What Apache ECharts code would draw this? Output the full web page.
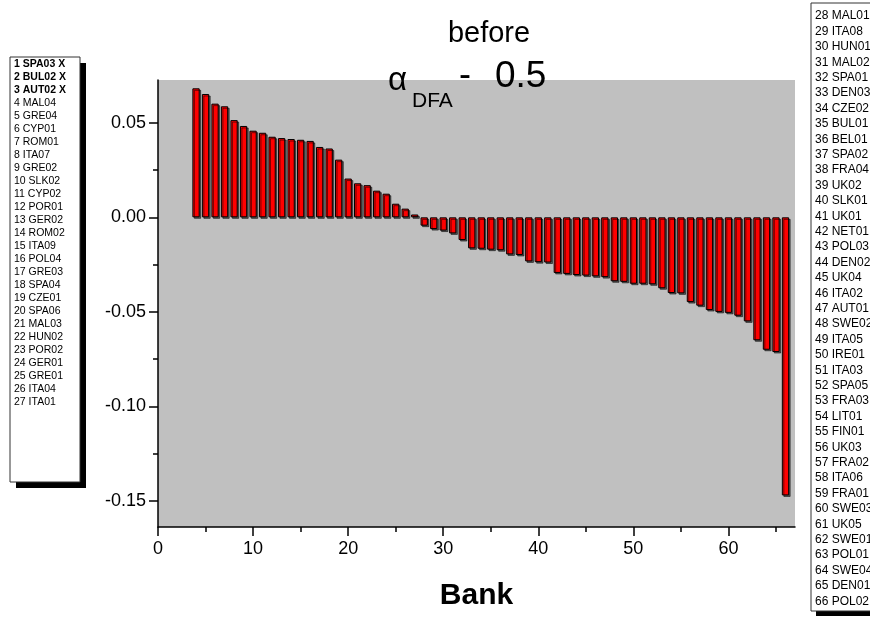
<!DOCTYPE html>
<html>
<head>
<meta charset="utf-8">
<script src="https://cdn.jsdelivr.net/npm/echarts@6/dist/echarts.min.js"></script>
<style>
html,body{margin:0;padding:0;background:#fff;}
#chart{width:870px;height:618px;}
</style>
</head>
<body>
<div id="chart"></div>
<script>
// ---- data ----
const banks = [4,5,6,7,8,9,10,11,12,13,14,15,16,17,18,19,20,21,22,23,24,25,26,27,28,29,30,31,32,33,34,35,36,37,38,39,40,41,42,43,44,45,46,47,48,49,50,51,52,53,54,55,56,57,58,59,60,61,62,63,64,65,66];
const values = [0.0682,0.0652,0.0601,0.0587,0.0514,0.0483,0.0458,0.0447,0.0426,0.0419,0.0414,0.0410,0.0404,0.0372,0.0364,0.0305,0.0205,0.0180,0.0170,0.0141,0.0125,0.0072,0.0046,0.0015,
 -0.0044,-0.0062,-0.0070,-0.0085,-0.0120,-0.0164,-0.0166,-0.0171,-0.0174,-0.0196,-0.0199,-0.0233,-0.0237,-0.0239,-0.0294,-0.0299,-0.0305,-0.0308,-0.0312,-0.0316,-0.0338,-0.0341,-0.0351,-0.0351,-0.0354,-0.0375,-0.0400,-0.0402,-0.0448,-0.0467,-0.0490,-0.0500,-0.0505,-0.0520,-0.0550,-0.0650,-0.0700,-0.0712,-0.1470];
const xTickLabels = [0,10,20,30,40,50,60];
const xMinorTicks = [5,15,25,35,45,55,65];
const yTickLabels = [-0.15,-0.10,-0.05,0.00,0.05];
const yMinorTicks = [-0.125,-0.075,-0.025,0.025];
const leftNames = ["1 SPA03 X","2 BUL02 X","3 AUT02 X","4 MAL04","5 GRE04","6 CYP01","7 ROM01","8 ITA07","9 GRE02","10 SLK02","11 CYP02","12 POR01","13 GER02","14 ROM02","15 ITA09","16 POL04","17 GRE03","18 SPA04","19 CZE01","20 SPA06","21 MAL03","22 HUN02","23 POR02","24 GER01","25 GRE01","26 ITA04","27 ITA01"];
const rightNames = ["28 MAL01","29 ITA08","30 HUN01","31 MAL02","32 SPA01","33 DEN03","34 CZE02","35 BUL01","36 BEL01","37 SPA02","38 FRA04","39 UK02","40 SLK01","41 UK01","42 NET01","43 POL03","44 DEN02","45 UK04","46 ITA02","47 AUT01","48 SWE02","49 ITA05","50 IRE01","51 ITA03","52 SPA05","53 FRA03","54 LIT01","55 FIN01","56 UK03","57 FRA02","58 ITA06","59 FRA01","60 SWE03","61 UK05","62 SWE01","63 POL01","64 SWE04","65 DEN01","66 POL02"];
const boldCount = 3;

// ---- chart ----
const FONT = '"Liberation Sans", Arial, sans-serif';
const chart = echarts.init(document.getElementById('chart'), null, {renderer:'canvas'});
const X_MIN = 0, X_MAX = 67, Y_MIN = -0.1637, Y_MAX = 0.0726;
const grid = {left:158, right:75, top:80, bottom:91, show:true, backgroundColor:'#c0c0c0', borderWidth:0};

const leftText = leftNames.map((n,i)=> (i<boldCount? '{b|'+n+'}' : '{n|'+n+'}')).join('\n');
const rightText = rightNames.map(n=>'{n|'+n+'}').join('\n');

const fmtY = v => v.toFixed(2);

chart.setOption({
  animation:false,
  backgroundColor:'#ffffff',
  textStyle:{fontFamily:FONT},
  title:{text:'before', left:484, top:14, textAlign:'center',
    textStyle:{fontSize:29, fontWeight:'normal', color:'#000', fontFamily:FONT}},
  grid: grid,
  xAxis:[{
    type:'value', min:X_MIN, max:X_MAX, interval:10,
    name:'Bank', nameLocation:'middle', nameGap:54,
    nameTextStyle:{fontSize:30, fontWeight:'bold', color:'#000', fontFamily:FONT},
    axisLine:{show:true, onZero:false, lineStyle:{color:'#000', width:1.5}},
    axisTick:{show:true, length:9, customValues:xTickLabels, lineStyle:{color:'#000', width:1.5}},
    axisLabel:{customValues:xTickLabels, fontSize:18, color:'#000', margin:13, fontFamily:FONT},
    splitLine:{show:false}
  },{
    type:'value', min:X_MIN, max:X_MAX, gridIndex:0, position:'bottom',
    axisLine:{show:false, onZero:false}, axisLabel:{show:false}, splitLine:{show:false},
    axisTick:{show:true, length:5, customValues:xMinorTicks, lineStyle:{color:'#000', width:1.5}}
  }],
  yAxis:[{
    type:'value', min:Y_MIN, max:Y_MAX,
    axisLine:{show:true, onZero:false, lineStyle:{color:'#000', width:1.5}},
    axisTick:{show:true, length:9, customValues:yTickLabels, lineStyle:{color:'#000', width:1.5}},
    axisLabel:{customValues:yTickLabels, formatter:fmtY, fontSize:18, color:'#000', margin:12, fontFamily:FONT},
    splitLine:{show:false}
  },{
    type:'value', min:Y_MIN, max:Y_MAX, position:'left',
    axisLine:{show:false, onZero:false}, axisLabel:{show:false}, splitLine:{show:false},
    axisTick:{show:true, length:5, customValues:yMinorTicks, lineStyle:{color:'#000', width:1.5}}
  }],
  series:[{
    type:'bar', xAxisIndex:0, yAxisIndex:0,
    barWidth:7.3,
    data: banks.map((b,i)=>[b, values[i]]),
    itemStyle:{color:'#ff0000', borderColor:'#000', borderWidth:1,
      shadowColor:'rgba(0,0,0,0.55)', shadowOffsetX:1.5, shadowOffsetY:1.5, shadowBlur:0}
  }],
  graphic:[
    // alpha label
    {type:'text', left:388, top:64, style:{text:'α', fontSize:33, fill:'#000', fontFamily:FONT}},
    {type:'text', left:412, top:91, style:{text:'DFA', fontSize:21, fill:'#000', fontFamily:FONT}},
    {type:'text', left:459, top:58, style:{text:'-', fontSize:36, fill:'#000', fontFamily:FONT}},
    {type:'text', left:495, top:58, style:{text:'0.5', fontSize:37, fill:'#000', fontFamily:FONT}},
    // left legend box with shadow
    {type:'rect', shape:{x:16, y:63, width:70, height:425}, style:{fill:'#000'}},
    {type:'rect', shape:{x:10, y:57, width:70, height:425}, style:{fill:'#fff', stroke:'#333', lineWidth:1}},
    {type:'text', left:14, top:59, style:{text:leftText, fill:'#000', rich:{
      b:{fontSize:10.5, fontWeight:'bold', lineHeight:13, fontFamily:FONT, fill:'#000'},
      n:{fontSize:10.5, lineHeight:13, fontFamily:FONT, fill:'#000'}}}},
    // right legend box with shadow
    {type:'rect', shape:{x:816, y:8, width:70, height:608}, style:{fill:'#000'}},
    {type:'rect', shape:{x:811, y:3, width:70, height:608}, style:{fill:'#fff', stroke:'#333', lineWidth:1}},
    {type:'text', left:815, top:10, style:{text:rightText, fill:'#000', rich:{
      n:{fontSize:12, lineHeight:15.4, fontFamily:FONT, fill:'#000'}}}}
  ]
});
</script>
</body>
</html>
